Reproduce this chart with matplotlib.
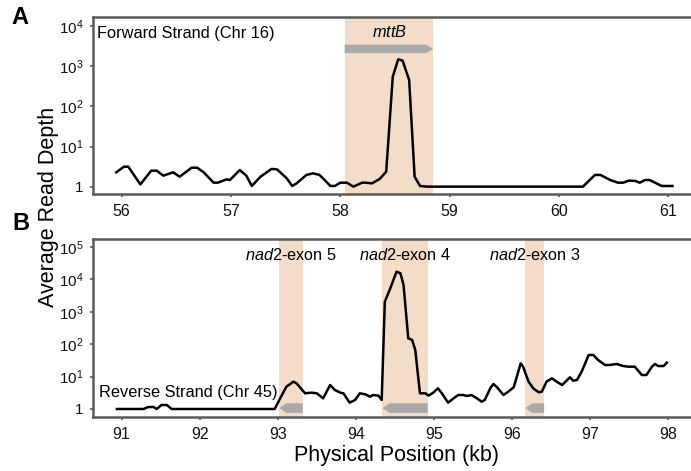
import numpy as np
import matplotlib.pyplot as plt
from matplotlib.patches import Polygon
import matplotlib.transforms as mtransforms

# ==========================================
# 1. Fonts
# ==========================================
plt.rcParams['font.family'] = ['Liberation Sans', 'DejaVu Sans']
plt.rcParams['mathtext.fontset'] = 'custom'
plt.rcParams['mathtext.rm'] = 'Liberation Sans'
plt.rcParams['mathtext.it'] = 'Liberation Sans:italic'
plt.rcParams['mathtext.bf'] = 'Liberation Sans:bold'

# ==========================================
# 2. Data
# ==========================================
# Panel A - forward strand (Chr 16), position in kb
fwd_pos = [55.95, 56.02, 56.06, 56.17, 56.27, 56.32, 56.38, 56.47, 56.53, 56.64,
           56.69, 56.75, 56.84, 56.88, 56.96, 56.99, 57.08, 57.14, 57.19, 57.27,
           57.37, 57.42, 57.51, 57.56, 57.60, 57.69, 57.75, 57.81, 57.91, 57.95,
           58.00, 58.06, 58.12, 58.20, 58.23, 58.29, 58.36, 58.42, 58.48, 58.53,
           58.57, 58.63, 58.68, 58.73, 58.79, 60.22, 60.33, 60.38, 60.47, 60.54,
           60.59, 60.64, 60.70, 60.74, 60.79, 60.83, 60.88, 60.94, 61.04]
fwd_depth = [2.31, 3.19, 3.19, 1.16, 2.54, 2.54, 1.91, 2.31, 1.80, 3.01,
             3.01, 2.31, 1.28, 1.28, 1.55, 1.49, 2.64, 1.91, 1.06, 1.80,
             2.80, 2.75, 1.64, 1.06, 1.23, 1.99, 2.18, 1.99, 1.06, 1.06,
             1.28, 1.28, 1.02, 1.28, 1.28, 1.23, 1.58, 2.40, 546, 1473,
             1364, 452, 1.80, 1.06, 1.02, 1.02, 1.99, 1.99, 1.49, 1.28,
             1.28, 1.44, 1.41, 1.28, 1.49, 1.49, 1.28, 1.06, 1.06]

# Panel B - reverse strand (Chr 45)
rev_pos = [90.94, 91.28, 91.34, 91.41, 91.45, 91.51, 91.58, 91.64, 92.96, 93.03,
           93.11, 93.20, 93.24, 93.35, 93.43, 93.50, 93.58, 93.67, 93.73, 93.80,
           93.84, 93.92, 93.99, 94.05, 94.12, 94.18, 94.22, 94.29, 94.33, 94.37,
           94.44, 94.52, 94.57, 94.61, 94.67, 94.72, 94.76, 94.82, 94.89, 94.93,
           94.99, 95.05, 95.10, 95.18, 95.25, 95.31, 95.38, 95.42, 95.48, 95.55,
           95.61, 95.65, 95.72, 95.76, 95.80, 95.89, 95.95, 96.02, 96.06, 96.11,
           96.14, 96.21, 96.27, 96.34, 96.38, 96.44, 96.51, 96.57, 96.64, 96.74,
           96.78, 96.83, 96.89, 96.98, 97.04, 97.10, 97.19, 97.25, 97.34, 97.42,
           97.49, 97.57, 97.66, 97.72, 97.79, 97.83, 97.87, 97.94, 97.98]
rev_depth = [1.0, 1.0, 1.15, 1.15, 1.0, 1.33, 1.33, 1.0, 1.0, 2.13,
             4.88, 6.98, 6.2, 3.05, 3.19, 3.05, 2.13, 5.5, 3.86, 3.19,
             3.05, 1.57, 1.90, 3.05, 2.84, 2.40, 2.70, 2.58, 1.90, 2050,
             5300, 17300, 15400, 6710, 152, 135, 66, 3.05, 3.05, 2.58,
             3.19, 4.35, 3.05, 1.57, 2.13, 2.70, 2.70, 2.52, 2.70, 2.13,
             1.68, 1.90, 4.35, 5.91, 4.88, 2.70, 3.43, 4.67, 9.95, 25.7,
             20.3, 6.98, 4.35, 3.27, 3.43, 6.98, 8.85, 6.98, 5.5, 9.49,
             7.48, 7.85, 14.2, 46.4, 46.4, 32.5, 22.8, 22.8, 24.5, 21.2,
             20.2, 20.2, 11.2, 11.2, 20.2, 24.5, 21.2, 21.2, 26.9]

# gene regions (kb)
fwd_gene_italic = ['mttB']
fwd_gene_suffix = ['']
fwd_gene_start = [58.04]
fwd_gene_end = [58.85]

rev_gene_italic = ['nad2', 'nad2', 'nad2']
rev_gene_suffix = ['-exon 5', '-exon 4', '-exon 3']
rev_gene_start = [93.02, 94.34, 96.17]
rev_gene_end = [93.32, 94.92, 96.41]

fwd_xticks = [56, 57, 58, 59, 60, 61]
rev_xticks = [91, 92, 93, 94, 95, 96, 97, 98]
fwd_yticks = [1, 1e1, 1e2, 1e3, 1e4]
rev_yticks = [1, 1e1, 1e2, 1e3, 1e4, 1e5]

# ==========================================
# 3. Style
# ==========================================
W, H = 691, 471
SHADE = '#f3ddc8'
ARROW = '#a9a9a9'
FRAME = '#5a5a5a'


def ytick_label(v):
    e = int(round(np.log10(v)))
    return '1' if e == 0 else r'$10^{%d}$' % e


def style_axes(ax, xticks, yticks, xlim, ylim):
    ax.set_yscale('log')
    ax.set_xlim(*xlim)
    ax.set_ylim(*ylim)
    ax.set_xticks(xticks)
    ax.set_xticklabels([str(t) for t in xticks], fontsize=11.5)
    ax.set_yticks(yticks)
    ax.set_yticklabels([ytick_label(t) for t in yticks], fontsize=11)
    ax.minorticks_off()
    for side in ['left', 'top', 'bottom']:
        ax.spines[side].set_color(FRAME)
        ax.spines[side].set_linewidth(1.8)
    ax.spines['right'].set_visible(False)
    ax.tick_params(axis='both', which='major', direction='out', length=2.5,
                   width=1.2, color=FRAME, pad=4.5, labelcolor='#111111')


def draw_gene(ax, start, end, forward, yc, half, head):
    # shaded region + grey strand arrow
    ax.axvspan(start, end, color=SHADE, lw=0, zorder=0)
    trans = mtransforms.blended_transform_factory(ax.transData, ax.transAxes)
    if forward:
        pts = [(start, yc - half), (end - head, yc - half), (end, yc),
               (end - head, yc + half), (start, yc + half)]
    else:
        pts = [(end, yc - half), (start + head, yc - half), (start, yc),
               (start + head, yc + half), (end, yc + half)]
    ax.add_patch(Polygon(pts, closed=True, transform=trans, color=ARROW,
                         lw=0, zorder=1))


fig = plt.figure(figsize=(W / 100, H / 100), dpi=100)

# ==========================================
# 4. Panel A
# ==========================================
ax_a = fig.add_axes([93 / W, 1 - 194 / H, 1 - 93 / W, 177 / H])
for it, suf, s, e in zip(fwd_gene_italic, fwd_gene_suffix, fwd_gene_start, fwd_gene_end):
    draw_gene(ax_a, s, e, True, 0.82, 0.024, 0.065)
    ax_a.text((s + e) / 2, 0.887, r'$\mathit{%s}$' % it + suf,
              transform=mtransforms.blended_transform_factory(ax_a.transData, ax_a.transAxes),
              ha='center', va='baseline', fontsize=11.7)
ax_a.plot(fwd_pos, fwd_depth, color='black', lw=1.8, zorder=3,
          solid_joinstyle='round')
style_axes(ax_a, fwd_xticks, fwd_yticks, (55.737, 61.209), (10 ** -0.174, 10 ** 4.218))
ax_a.text(0.0067, 0.881, 'Forward Strand (Chr 16)', transform=ax_a.transAxes,
          ha='left', va='baseline', fontsize=11.8)

# ==========================================
# 5. Panel B
# ==========================================
ax_b = fig.add_axes([93 / W, 1 - 417 / H, 1 - 93 / W, 178 / H])
for it, suf, s, e in zip(rev_gene_italic, rev_gene_suffix, rev_gene_start, rev_gene_end):
    draw_gene(ax_b, s, e, False, 0.05, 0.027, 0.09)
    ax_b.text((s + e) / 2, 0.882, r'$\mathit{%s}$' % it + suf,
              transform=mtransforms.blended_transform_factory(ax_b.transData, ax_b.transAxes),
              ha='center', va='baseline', fontsize=11.7)
ax_b.plot(rev_pos, rev_depth, color='black', lw=1.8, zorder=3,
          solid_joinstyle='round')
style_axes(ax_b, rev_xticks, rev_yticks, (90.634, 98.29), (10 ** -0.247, 10 ** 5.247))
ax_b.text(0.01, 0.114, 'Reverse Strand (Chr 45)', transform=ax_b.transAxes,
          ha='left', va='baseline', fontsize=11.8)

# ==========================================
# 6. Shared labels and panel letters
# ==========================================
fig.text(49 / W, 1 - 207 / H, 'Average Read Depth', rotation=90,
         ha='center', va='center', fontsize=15.5)
fig.text(396 / W, 1 - 456 / H, 'Physical Position (kb)',
         ha='center', va='center', fontsize=15.5)
fig.text(20 / W, 1 - 18 / H, 'A', ha='center', va='center',
         fontsize=17, fontweight='bold')
fig.text(21 / W, 1 - 223 / H, 'B', ha='center', va='center',
         fontsize=17, fontweight='bold')

fig.savefig('out.png', dpi=100)
